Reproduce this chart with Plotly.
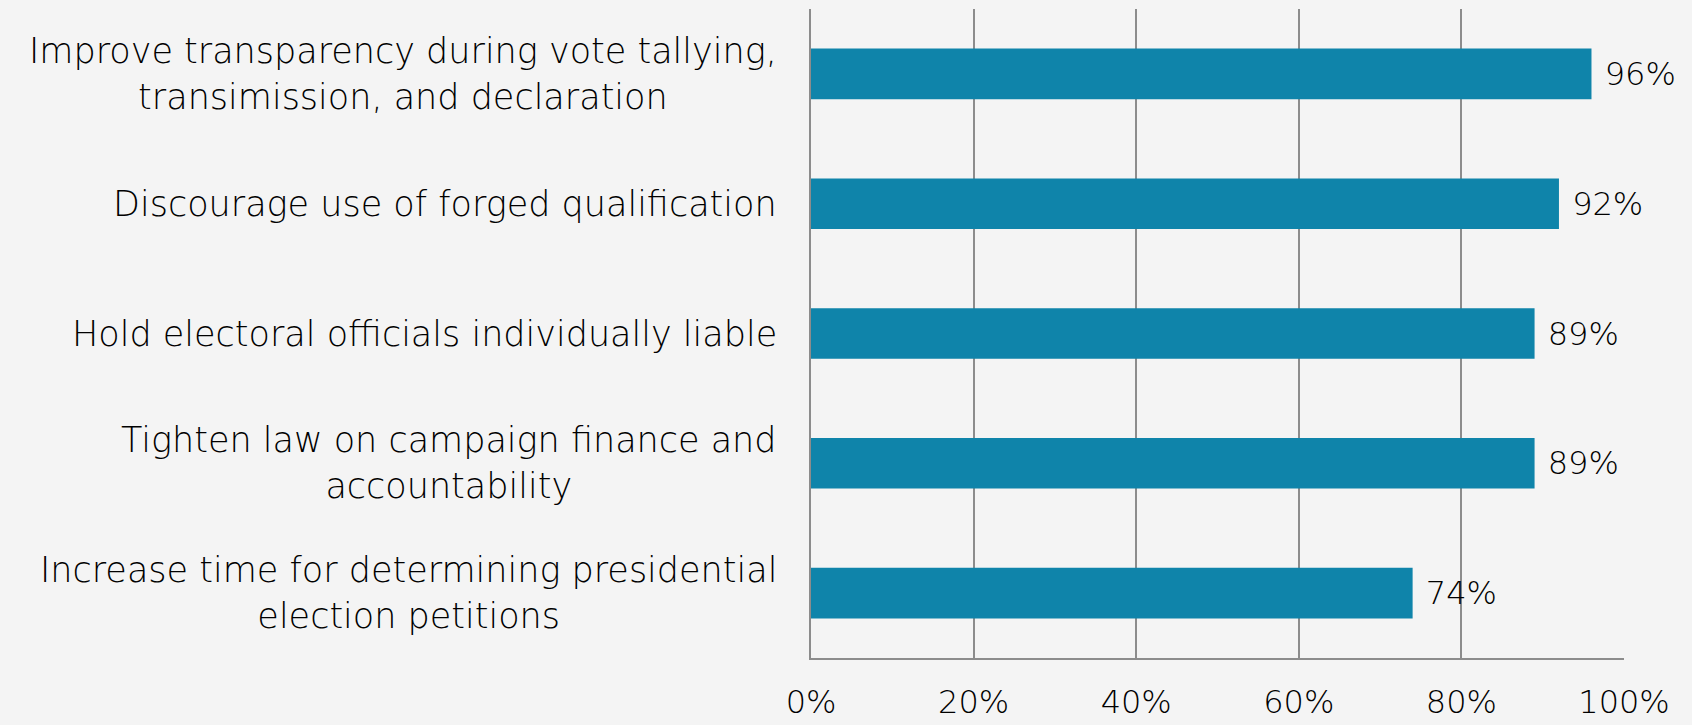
import plotly.graph_objects as go

# Survey results: share of respondents supporting each reform
reforms = [
    "Improve transparency during vote tallying,<br>transimission, and declaration",
    "Discourage use of forged qualification",
    "Hold electoral officials individually liable",
    "Tighten law on campaign finance and<br>accountability",
    "Increase time for determining presidential<br>election petitions",
]
support_pct = [96, 92, 89, 89, 74]
tick_values = [0, 20, 40, 60, 80, 100]
tick_labels = ["0%", "20%", "40%", "60%", "80%", "100%"]

FONT = "DejaVu Sans"
TEXT_WEIGHT = 200
TEXT_COLOR = "#000000"
BAR_COLOR = "#0f84aa"
GRID_COLOR = "#8c8c8c"
BG = "#f4f4f4"

cat_ids = list(range(len(reforms)))

fig = go.Figure(
    go.Bar(
        x=support_pct,
        y=cat_ids,
        orientation="h",
        marker=dict(color=BAR_COLOR, line=dict(width=0)),
        text=[f" {v}%" for v in support_pct],
        textposition="outside",
        textfont=dict(family=FONT, size=32, color=TEXT_COLOR, weight=TEXT_WEIGHT),
        cliponaxis=False,
        width=0.39,
    )
)

# Category labels as centred multi-line annotations left of the plot
for i, label in zip(cat_ids, reforms):
    fig.add_annotation(
        x=0, xref="paper", y=i, yref="y",
        text=label, showarrow=False,
        xanchor="right", yanchor="middle", align="center",
        xshift=-32,
        font=dict(family=FONT, size=35, color=TEXT_COLOR, weight=TEXT_WEIGHT),
    )

fig.update_layout(
    width=1692, height=725,
    margin=dict(l=811, r=68, t=9, b=67, autoexpand=False),
    paper_bgcolor=BG, plot_bgcolor=BG,
    showlegend=False,
    bargap=0.61,
)
fig.update_xaxes(
    range=[0, 100],
    tickvals=tick_values, ticktext=tick_labels,
    showgrid=True, gridcolor=GRID_COLOR, gridwidth=1.5,
    showline=True, linecolor=GRID_COLOR, linewidth=1.5,
    zeroline=False, mirror=False, automargin=False,
    ticks="", ticklabelstandoff=15,
    tickfont=dict(family=FONT, size=32, color=TEXT_COLOR, weight=TEXT_WEIGHT),
)
fig.update_yaxes(
    range=[len(reforms) - 0.5, -0.5],
    showticklabels=False, showgrid=False,
    showline=True, linecolor=GRID_COLOR, linewidth=1.5,
    zeroline=False, ticks="", automargin=False,
)

fig.write_html("out.html")
